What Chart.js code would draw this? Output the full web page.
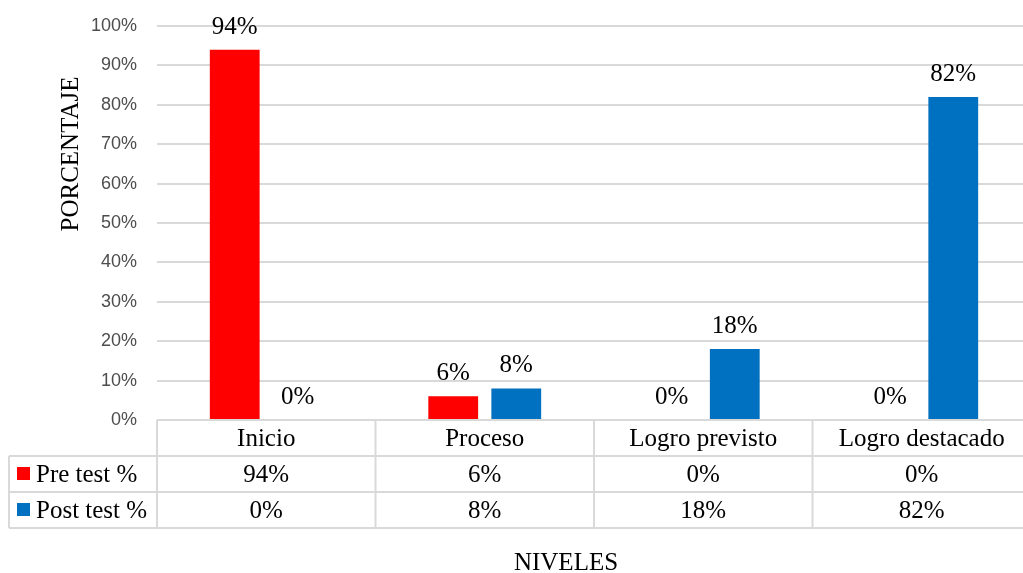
<!DOCTYPE html>
<html>
<head>
<meta charset="utf-8">
<script src="https://cdn.jsdelivr.net/npm/chart.js@4.4.1/dist/chart.umd.min.js"></script>
<style>
  html, body { margin: 0; padding: 0; background: #fff; overflow: hidden; }
  #wrap { width: 1040px; height: 573px; position: relative; }
</style>
</head>
<body>
<div id="wrap"><canvas id="chart"></canvas></div>
<script>
// chart data
const categories = ['Inicio', 'Proceso', 'Logro previsto', 'Logro destacado'];
const seriesNames = ['Pre test %', 'Post test %'];
const preTest = [94, 6, 0, 0];
const postTest = [0, 8, 18, 82];
const yTicks = [0, 10, 20, 30, 40, 50, 60, 70, 80, 90, 100];

const COLORS = {
  pre: '#FF0000',
  post: '#0070C0',
  grid: '#D9D9D9',
  tick: '#4D4D4D',
  text: '#000000',
};

const SERIF = "'Liberation Serif', 'Times New Roman', serif";
const SANS = "'Liberation Sans', Arial, sans-serif";
const ROW_H = 36;

/** Value labels above each bar */
const barLabels = {
  id: 'barLabels',
  afterDatasetsDraw(chart) {
    const ctx = chart.ctx;
    ctx.save();
    ctx.font = '25px ' + SERIF;
    ctx.fillStyle = COLORS.text;
    ctx.textAlign = 'center';
    ctx.textBaseline = 'alphabetic';
    chart.data.datasets.forEach((ds, di) => {
      chart.getDatasetMeta(di).data.forEach((bar, i) => {
        ctx.fillText(ds.data[i] + '%', bar.x, bar.y - 16);
      });
    });
    ctx.restore();
  },
};

/** Data table under the plot, axis titles */
const dataTable = {
  id: 'dataTable',
  afterDraw(chart) {
    const ctx = chart.ctx;
    const x = chart.scales.x;
    const area = chart.chartArea;
    const n = categories.length;
    const catW = (area.right - area.left) / n;
    const top = area.bottom;
    const tableLeft = 9;
    const rows = [top, top + ROW_H, top + ROW_H * 2, top + ROW_H * 3];

    ctx.save();
    ctx.strokeStyle = COLORS.grid;
    ctx.lineWidth = 2;
    ctx.beginPath();
    ctx.moveTo(area.left, rows[0]);
    ctx.lineTo(area.right, rows[0]);
    for (let r = 1; r < rows.length; r++) {
      ctx.moveTo(tableLeft, rows[r]);
      ctx.lineTo(area.right, rows[r]);
    }
    for (let i = 0; i <= n; i++) {
      const bx = area.left + catW * i;
      ctx.moveTo(bx, rows[0]);
      ctx.lineTo(bx, rows[3]);
    }
    ctx.moveTo(tableLeft, rows[1]);
    ctx.lineTo(tableLeft, rows[3]);
    ctx.stroke();

    ctx.font = '25px ' + SERIF;
    ctx.fillStyle = COLORS.text;
    ctx.textAlign = 'center';
    ctx.textBaseline = 'middle';
    categories.forEach((c, i) => {
      const cx = x.getPixelForValue(i);
      ctx.fillText(c, cx, rows[0] + ROW_H / 2 + 1);
      chart.data.datasets.forEach((ds, di) => {
        ctx.fillText(ds.data[i] + '%', cx, rows[di + 1] + ROW_H / 2 + 1);
      });
    });

    // legend keys in the row headers
    ctx.textAlign = 'left';
    chart.data.datasets.forEach((ds, di) => {
      const cy = rows[di + 1] + ROW_H / 2;
      ctx.fillStyle = ds.backgroundColor;
      ctx.fillRect(17, cy - 7, 13, 13);
      ctx.fillStyle = COLORS.text;
      ctx.fillText(ds.label, 36, cy + 1);
    });

    // axis titles
    ctx.textAlign = 'center';
    ctx.textBaseline = 'middle';
    ctx.fillText('NIVELES', 566, 563);
    ctx.translate(71, 154);
    ctx.rotate(-Math.PI / 2);
    ctx.fillText('PORCENTAJE', 0, 0);
    ctx.restore();
  },
};

new Chart(document.getElementById('chart'), {
  type: 'bar',
  data: {
    labels: categories,
    datasets: [
      { label: seriesNames[0], data: preTest, backgroundColor: COLORS.pre },
      { label: seriesNames[1], data: postTest, backgroundColor: COLORS.post },
    ],
  },
  options: {
    responsive: true,
    maintainAspectRatio: false,
    animation: false,
    categoryPercentage: 0.577,
    barPercentage: 0.79,
    layout: { padding: { top: 26, right: 9, bottom: 153, left: 0 } },
    plugins: {
      legend: { display: false },
      tooltip: { enabled: false },
    },
    scales: {
      x: { display: false },
      y: {
        min: 0,
        max: 100,
        afterFit: (s) => { s.width = 157; },
        afterBuildTicks: (s) => { s.ticks = yTicks.map((v) => ({ value: v })); },
        ticks: {
          color: COLORS.tick,
          padding: 0,
          font: { family: SANS, size: 18 },
          callback: (v) => v + '%',
        },
        grid: {
          color: COLORS.grid,
          lineWidth: 2,
          drawTicks: true,
          tickLength: 20,
          tickColor: 'rgba(0,0,0,0)',
        },
        border: { display: false },
      },
    },
  },
  plugins: [barLabels, dataTable],
});
</script>
</body>
</html>
